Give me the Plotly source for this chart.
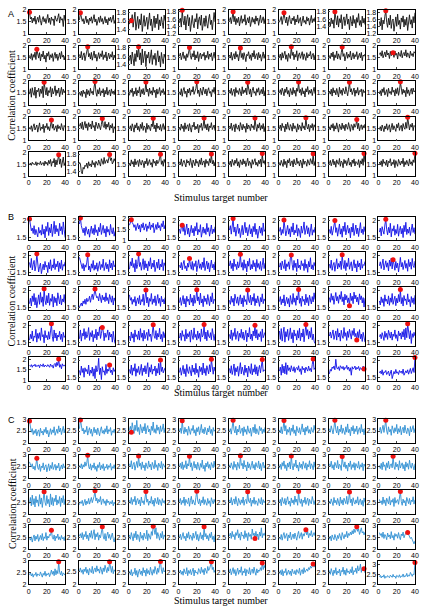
import plotly.graph_objects as go

STIMULUS = [1, 2, 3, 4, 5, 6, 7, 8, 9, 10, 11, 12, 13, 14, 15, 16, 17, 18, 19, 20,
            21, 22, 23, 24, 25, 26, 27, 28, 29, 30, 31, 32, 33, 34, 35, 36, 37, 38, 39, 40]
TARGETS = [1, 2, 3, 4, 5, 6, 7, 8, 9, 10, 11, 12, 13, 14, 15, 16, 17, 18, 19, 20,
           21, 22, 23, 24, 25, 26, 27, 28, 29, 30, 31, 32, 33, 34, 35, 36, 37, 38, 39, 40]
X_TICKS = [0, 20, 40]

A_SERIES = [
 [1.90,1.62,1.70,1.45,1.66,1.52,1.74,1.40,1.58,1.69,1.48,1.77,1.55,1.36,1.61,1.72,1.50,1.64,1.43,1.58,
  1.81,1.47,1.66,1.39,1.70,1.56,1.62,1.34,1.75,1.60,1.52,1.68,1.84,1.45,1.71,1.57,1.63,1.30,1.78,1.55],
 [1.58,1.88,1.70,1.52,1.63,1.41,1.57,1.74,1.46,1.60,1.38,1.66,1.53,1.71,1.44,1.59,1.80,1.49,1.62,1.35,
  1.56,1.69,1.47,1.75,1.51,1.64,1.40,1.58,1.72,1.45,1.61,1.37,1.67,1.54,1.70,1.48,1.62,1.78,1.43,1.57],
 [1.52,1.66,1.60,1.74,1.45,1.58,1.80,1.38,1.55,1.70,1.42,1.63,1.50,1.76,1.35,1.61,1.72,1.47,1.57,1.68,
  1.40,1.54,1.78,1.49,1.64,1.36,1.59,1.71,1.44,1.66,1.53,1.75,1.39,1.62,1.48,1.69,1.56,1.42,1.73,1.60],
 [1.50,1.62,1.38,1.84,1.56,1.44,1.68,1.30,1.59,1.72,1.41,1.64,1.26,1.55,1.70,1.47,1.36,1.61,1.52,1.75,
  1.33,1.58,1.66,1.43,1.71,1.29,1.54,1.63,1.40,1.69,1.48,1.35,1.60,1.73,1.45,1.57,1.31,1.66,1.78,1.52],
 [1.55,1.68,1.42,1.61,1.92,1.50,1.73,1.38,1.64,1.47,1.70,1.33,1.58,1.76,1.44,1.62,1.51,1.80,1.36,1.59,
  1.67,1.45,1.72,1.30,1.56,1.69,1.48,1.63,1.40,1.75,1.53,1.66,1.35,1.60,1.78,1.46,1.57,1.71,1.42,1.64],
 [1.48,1.60,1.72,1.39,1.57,1.88,1.63,1.45,1.70,1.34,1.59,1.76,1.50,1.41,1.66,1.55,1.73,1.37,1.62,1.49,
  1.79,1.44,1.58,1.68,1.32,1.61,1.74,1.47,1.56,1.40,1.71,1.53,1.65,1.36,1.60,1.77,1.46,1.63,1.51,1.69],
 [1.52,1.40,1.63,1.47,1.58,1.35,1.80,1.55,1.44,1.69,1.38,1.61,1.50,1.72,1.33,1.57,1.66,1.42,1.54,1.74,
  1.46,1.60,1.31,1.67,1.53,1.41,1.70,1.48,1.59,1.36,1.64,1.51,1.75,1.43,1.56,1.39,1.68,1.49,1.62,1.45],
 [1.55,1.42,1.66,1.31,1.59,1.48,1.70,1.86,1.52,1.38,1.64,1.45,1.73,1.35,1.57,1.62,1.27,1.50,1.68,1.41,
  1.76,1.46,1.58,1.33,1.65,1.53,1.71,1.39,1.61,1.44,1.67,1.29,1.56,1.74,1.47,1.60,1.36,1.69,1.51,1.80],
 [1.58,1.45,1.66,1.38,1.62,1.50,1.72,1.41,1.84,1.60,1.47,1.70,1.35,1.63,1.52,1.77,1.43,1.59,1.30,1.68,
  1.55,1.74,1.40,1.61,1.49,1.66,1.33,1.57,1.71,1.46,1.64,1.37,1.58,1.69,1.44,1.75,1.51,1.60,1.39,1.56],
 [1.62,1.48,1.75,1.40,1.58,1.69,1.36,1.55,1.72,1.95,1.52,1.66,1.43,1.71,1.38,1.60,1.77,1.47,1.63,1.34,
  1.58,1.70,1.45,1.65,1.53,1.78,1.41,1.61,1.49,1.73,1.35,1.57,1.68,1.44,1.62,1.51,1.74,1.39,1.60,1.47],
 [1.50,1.63,1.42,1.70,1.55,1.38,1.66,1.48,1.74,1.58,1.82,1.52,1.68,1.40,1.77,1.45,1.60,1.72,1.36,1.64,
  1.56,1.70,1.44,1.59,1.75,1.41,1.62,1.53,1.67,1.39,1.58,1.73,1.47,1.61,1.35,1.69,1.54,1.43,1.65,1.57],
 [1.55,1.68,1.40,1.60,1.73,1.45,1.58,1.36,1.65,1.50,1.70,1.92,1.57,1.42,1.66,1.52,1.78,1.39,1.61,1.47,
  1.74,1.33,1.59,1.68,1.44,1.63,1.55,1.71,1.38,1.60,1.49,1.76,1.42,1.64,1.53,1.69,1.36,1.58,1.72,1.46],
 [1.60,1.47,1.72,1.38,1.56,1.66,1.43,1.75,1.51,1.62,1.35,1.58,1.90,1.49,1.67,1.41,1.70,1.54,1.32,1.63,
  1.57,1.74,1.45,1.61,1.37,1.68,1.52,1.79,1.44,1.59,1.66,1.40,1.71,1.48,1.62,1.34,1.57,1.73,1.46,1.64],
 [1.52,1.64,1.38,1.70,1.47,1.59,1.76,1.42,1.61,1.33,1.67,1.55,1.45,1.95,1.58,1.72,1.40,1.63,1.51,1.78,
  1.36,1.60,1.69,1.46,1.57,1.74,1.41,1.65,1.53,1.37,1.70,1.48,1.62,1.56,1.75,1.43,1.59,1.67,1.39,1.61],
 [1.58,1.45,1.68,1.52,1.73,1.37,1.61,1.49,1.77,1.43,1.65,1.56,1.40,1.70,1.94,1.54,1.66,1.35,1.60,1.72,
  1.46,1.63,1.51,1.76,1.39,1.58,1.69,1.44,1.62,1.53,1.74,1.41,1.57,1.67,1.48,1.71,1.36,1.60,1.55,1.64],
 [1.62,1.70,1.55,1.78,1.48,1.66,1.73,1.52,1.80,1.60,1.68,1.45,1.75,1.57,1.64,1.70,1.50,1.77,1.59,1.67,
  1.43,1.72,1.61,1.54,1.79,1.48,1.65,1.71,1.56,1.82,1.51,1.69,1.63,1.47,1.76,1.58,1.66,1.53,1.74,1.68],
 [1.45,1.68,1.32,1.72,1.50,1.40,1.75,1.28,1.62,1.55,1.70,1.35,1.66,1.48,1.78,1.30,1.95,1.64,1.42,1.73,
  1.37,1.60,1.52,1.76,1.33,1.69,1.46,1.57,1.80,1.39,1.63,1.49,1.71,1.34,1.59,1.74,1.43,1.66,1.51,1.60],
 [1.52,1.40,1.58,1.35,1.62,1.47,1.55,1.30,1.66,1.44,1.60,1.38,1.70,1.49,1.57,1.42,1.75,1.98,1.53,1.36,
  1.64,1.46,1.72,1.39,1.59,1.50,1.68,1.33,1.61,1.45,1.74,1.41,1.56,1.63,1.37,1.67,1.48,1.58,1.43,1.65],
 [1.40,1.63,1.52,1.70,1.35,1.58,1.45,1.72,1.38,1.61,1.50,1.76,1.33,1.64,1.47,1.69,1.42,1.57,1.96,1.54,
  1.66,1.36,1.71,1.48,1.59,1.41,1.74,1.52,1.62,1.30,1.67,1.45,1.56,1.73,1.39,1.60,1.51,1.68,1.43,1.58],
 [1.55,1.42,1.68,1.36,1.60,1.73,1.47,1.58,1.32,1.66,1.50,1.71,1.40,1.63,1.54,1.77,1.44,1.59,1.69,1.97,
  1.48,1.62,1.35,1.70,1.52,1.41,1.75,1.57,1.46,1.67,1.38,1.61,1.72,1.49,1.56,1.34,1.64,1.53,1.74,1.45],
 [1.62,1.48,1.70,1.40,1.57,1.66,1.35,1.73,1.51,1.60,1.44,1.69,1.55,1.38,1.76,1.47,1.63,1.52,1.71,1.42,
  1.95,1.58,1.45,1.67,1.33,1.61,1.74,1.49,1.56,1.39,1.68,1.53,1.72,1.41,1.59,1.65,1.46,1.75,1.37,1.60],
 [1.50,1.64,1.43,1.71,1.56,1.38,1.67,1.52,1.75,1.45,1.60,1.34,1.69,1.55,1.42,1.73,1.48,1.62,1.36,1.70,
  1.57,1.96,1.51,1.65,1.40,1.72,1.46,1.59,1.33,1.68,1.54,1.77,1.44,1.61,1.49,1.66,1.39,1.58,1.74,1.47],
 [1.58,1.45,1.66,1.37,1.72,1.50,1.61,1.42,1.69,1.55,1.33,1.74,1.48,1.63,1.40,1.70,1.57,1.46,1.76,1.52,
  1.38,1.65,1.95,1.54,1.68,1.43,1.59,1.71,1.36,1.62,1.49,1.73,1.41,1.60,1.56,1.67,1.35,1.64,1.51,1.58],
 [1.46,1.60,1.38,1.67,1.52,1.73,1.41,1.58,1.64,1.35,1.70,1.49,1.56,1.43,1.75,1.53,1.62,1.37,1.68,1.47,
  1.72,1.40,1.59,1.97,1.55,1.44,1.66,1.50,1.61,1.34,1.74,1.48,1.63,1.39,1.57,1.69,1.45,1.71,1.54,1.60],
 [1.55,1.47,1.62,1.38,1.58,1.70,1.44,1.52,1.65,1.35,1.60,1.74,1.42,1.56,1.49,1.68,1.33,1.61,1.53,1.72,
  1.46,1.58,1.40,1.64,1.86,1.51,1.69,1.43,1.57,1.62,1.37,1.66,1.50,1.59,1.45,1.71,1.54,1.41,1.63,1.57],
 [1.60,1.72,1.50,1.78,1.45,1.65,1.80,1.52,1.70,1.42,1.75,1.58,1.68,1.48,1.82,1.55,1.63,1.40,1.77,1.62,
  1.50,1.73,1.57,1.45,1.67,1.92,1.60,1.54,1.79,1.47,1.69,1.56,1.76,1.43,1.64,1.52,1.71,1.32,1.58,1.49],
 [1.48,1.62,1.40,1.70,1.55,1.35,1.66,1.52,1.74,1.44,1.59,1.38,1.68,1.50,1.76,1.42,1.61,1.56,1.33,1.72,
  1.47,1.64,1.53,1.41,1.69,1.58,1.93,1.49,1.65,1.36,1.73,1.51,1.60,1.45,1.67,1.39,1.57,1.71,1.46,1.63],
 [1.56,1.43,1.69,1.50,1.62,1.37,1.74,1.47,1.58,1.66,1.40,1.71,1.53,1.35,1.64,1.57,1.77,1.45,1.60,1.49,
  1.68,1.32,1.63,1.55,1.72,1.42,1.59,1.95,1.51,1.67,1.44,1.70,1.38,1.61,1.54,1.75,1.46,1.58,1.65,1.41],
 [1.61,1.50,1.73,1.42,1.58,1.66,1.36,1.70,1.53,1.47,1.64,1.39,1.75,1.56,1.44,1.68,1.51,1.60,1.34,1.72,
  1.48,1.65,1.57,1.41,1.69,1.54,1.62,1.45,1.94,1.59,1.38,1.67,1.52,1.74,1.43,1.63,1.49,1.71,1.37,1.60],
 [1.50,1.65,1.41,1.72,1.54,1.60,1.36,1.69,1.47,1.76,1.55,1.43,1.67,1.58,1.39,1.73,1.49,1.62,1.52,1.35,
  1.70,1.46,1.64,1.57,1.40,1.75,1.51,1.61,1.44,1.96,1.59,1.48,1.68,1.37,1.63,1.53,1.71,1.42,1.66,1.56],
 [1.58,1.44,1.66,1.52,1.71,1.39,1.62,1.48,1.74,1.56,1.35,1.68,1.60,1.45,1.73,1.50,1.64,1.41,1.69,1.57,
  1.47,1.75,1.53,1.38,1.67,1.61,1.43,1.70,1.55,1.64,1.88,1.49,1.72,1.40,1.59,1.66,1.46,1.63,1.52,1.69],
 [1.46,1.58,1.40,1.65,1.52,1.37,1.61,1.48,1.70,1.43,1.55,1.66,1.35,1.59,1.72,1.45,1.62,1.50,1.38,1.68,
  1.53,1.74,1.42,1.57,1.64,1.39,1.71,1.55,1.47,1.76,1.51,1.98,1.60,1.44,1.67,1.56,1.73,1.41,1.63,1.58],
 [1.48,1.55,1.45,1.58,1.50,1.52,1.47,1.60,1.44,1.56,1.51,1.49,1.62,1.46,1.54,1.57,1.43,1.63,1.50,1.58,
  1.45,1.66,1.52,1.70,1.41,1.61,1.55,1.74,1.38,1.68,1.47,1.78,1.90,1.50,1.72,1.36,1.65,1.80,1.44,1.57],
 [1.62,1.58,1.40,1.35,1.50,1.46,1.55,1.52,1.60,1.48,1.63,1.54,1.58,1.51,1.66,1.56,1.61,1.50,1.64,1.58,
  1.55,1.67,1.60,1.53,1.70,1.62,1.57,1.73,1.59,1.65,1.68,1.60,1.76,1.80,1.66,1.72,1.58,1.62,1.70,1.64],
 [1.55,1.42,1.68,1.50,1.61,1.38,1.72,1.47,1.59,1.65,1.40,1.70,1.53,1.46,1.66,1.57,1.35,1.63,1.51,1.74,
  1.44,1.60,1.69,1.48,1.56,1.37,1.71,1.54,1.62,1.43,1.67,1.52,1.58,1.75,1.92,1.49,1.64,1.41,1.70,1.56],
 [1.60,1.48,1.72,1.41,1.57,1.66,1.52,1.38,1.69,1.55,1.63,1.45,1.74,1.50,1.35,1.67,1.58,1.43,1.71,1.54,
  1.61,1.39,1.68,1.49,1.76,1.46,1.59,1.64,1.37,1.70,1.53,1.62,1.44,1.73,1.56,1.93,1.51,1.66,1.42,1.60],
 [1.50,1.63,1.39,1.70,1.56,1.45,1.67,1.53,1.74,1.42,1.60,1.36,1.68,1.58,1.47,1.72,1.51,1.64,1.40,1.57,
  1.75,1.44,1.62,1.55,1.33,1.69,1.49,1.61,1.73,1.46,1.58,1.41,1.66,1.52,1.71,1.38,1.95,1.54,1.65,1.48],
 [1.57,1.45,1.66,1.52,1.40,1.71,1.48,1.62,1.35,1.68,1.55,1.74,1.43,1.59,1.64,1.38,1.70,1.51,1.47,1.76,
  1.53,1.61,1.42,1.67,1.56,1.34,1.72,1.49,1.63,1.58,1.41,1.69,1.54,1.46,1.73,1.60,1.50,1.94,1.44,1.62],
 [1.52,1.66,1.43,1.59,1.71,1.47,1.62,1.37,1.68,1.55,1.49,1.74,1.41,1.63,1.57,1.35,1.70,1.52,1.65,1.44,
  1.60,1.76,1.46,1.58,1.39,1.67,1.53,1.72,1.42,1.61,1.56,1.48,1.69,1.36,1.64,1.51,1.73,1.45,1.95,1.58],
 [1.59,1.47,1.64,1.40,1.71,1.53,1.60,1.45,1.67,1.38,1.62,1.56,1.73,1.43,1.58,1.49,1.69,1.35,1.65,1.54,
  1.41,1.70,1.57,1.46,1.63,1.52,1.75,1.39,1.61,1.48,1.66,1.55,1.42,1.72,1.50,1.60,1.44,1.68,1.57,1.96],
]

B_SERIES = [
 [2.05,1.92,1.70,1.78,1.62,1.85,1.58,1.74,1.66,1.52,1.80,1.63,1.71,1.57,1.88,1.60,1.75,1.49,1.83,1.68,
  1.95,1.56,1.79,1.64,1.90,1.53,1.72,1.98,1.61,1.86,1.67,1.76,1.55,1.92,1.70,1.82,1.59,1.96,1.73,1.50],
 [1.90,2.08,1.85,1.72,1.64,1.78,1.56,1.82,1.68,1.60,1.75,1.51,1.69,1.84,1.62,1.77,1.58,1.88,1.65,1.73,
  1.55,1.80,1.67,1.92,1.59,1.71,1.86,1.63,1.76,1.52,1.83,1.66,1.74,1.57,1.89,1.70,1.61,1.79,1.54,1.68],
 [1.70,1.88,1.95,1.82,1.75,1.60,1.72,1.45,1.66,1.78,1.52,1.69,1.38,1.74,1.58,1.81,1.47,1.63,1.76,1.41,
  1.67,1.55,1.85,1.49,1.71,1.60,1.79,1.35,1.64,1.73,1.50,1.83,1.57,1.68,1.44,1.77,1.62,1.90,1.53,1.70],
 [1.75,1.62,1.80,1.86,1.68,1.85,1.57,1.73,1.90,1.60,1.78,1.52,1.70,1.86,1.64,1.77,1.55,1.83,1.69,1.94,
  1.58,1.74,1.66,1.88,1.51,1.72,1.81,1.63,1.76,1.59,1.92,1.67,1.79,1.54,1.71,1.87,1.61,1.75,1.65,1.82],
 [1.72,1.85,1.60,1.78,2.06,1.66,1.81,1.54,1.74,1.90,1.62,1.77,1.50,1.69,1.86,1.58,1.73,1.95,1.64,1.80,
  1.55,1.71,1.88,1.61,1.76,1.52,1.83,1.67,1.92,1.59,1.75,1.48,1.70,1.84,1.63,1.79,1.56,1.93,1.68,1.74],
 [1.68,1.80,1.57,1.74,1.62,2.02,1.78,1.55,1.70,1.86,1.60,1.76,1.52,1.82,1.66,1.93,1.58,1.72,1.64,1.88,
  1.54,1.77,1.69,1.50,1.84,1.63,1.75,1.96,1.59,1.71,1.85,1.61,1.79,1.53,1.67,1.90,1.57,1.73,1.65,1.81],
 [1.74,1.62,1.83,1.57,1.70,1.88,2.00,1.65,1.79,1.54,1.72,1.90,1.60,1.76,1.51,1.84,1.68,1.95,1.58,1.73,
  1.86,1.63,1.77,1.49,1.81,1.66,1.92,1.56,1.71,1.87,1.61,1.78,1.53,1.69,1.94,1.64,1.75,1.59,1.82,1.67],
 [1.66,1.78,1.55,1.82,1.70,1.60,1.87,2.04,1.73,1.58,1.80,1.64,1.92,1.52,1.76,1.69,1.85,1.57,1.74,1.62,
  1.89,1.54,1.71,1.83,1.61,1.77,1.50,1.86,1.67,1.95,1.59,1.75,1.63,1.81,1.56,1.72,1.90,1.65,1.79,1.60],
 [1.80,1.65,1.92,1.58,1.74,1.86,1.55,1.70,2.05,1.85,1.52,1.68,1.78,1.47,1.63,1.75,1.58,1.83,1.66,1.72,
  1.50,1.80,1.61,1.88,1.56,1.73,1.64,1.91,1.59,1.76,1.67,1.84,1.53,1.79,1.62,1.87,1.57,1.74,1.69,1.82],
 [1.95,1.84,1.70,1.62,1.77,1.55,1.73,1.66,1.81,2.03,1.58,1.69,1.52,1.76,1.63,1.86,1.57,1.72,1.60,1.79,
  1.54,1.68,1.83,1.59,1.74,1.65,1.90,1.56,1.71,1.80,1.61,1.75,1.53,1.88,1.64,1.78,1.58,1.85,1.67,1.73],
 [1.60,1.82,1.70,1.93,1.65,1.77,1.52,1.88,1.62,1.74,2.05,1.68,1.80,1.57,1.73,1.91,1.59,1.85,1.64,1.76,
  1.55,1.83,1.69,1.94,1.61,1.78,1.66,1.87,1.53,1.72,1.81,1.63,1.90,1.58,1.75,1.67,1.89,1.56,1.79,1.70],
 [1.72,1.64,1.80,1.58,1.75,1.86,1.62,1.70,1.55,1.78,1.66,1.92,1.73,1.60,1.83,1.57,1.77,1.68,1.85,1.53,
  1.71,1.88,1.63,1.76,1.59,1.81,1.65,1.94,1.56,1.74,1.84,1.61,1.79,1.52,1.69,1.87,1.64,1.75,1.58,1.82],
 [1.70,1.85,1.62,1.78,1.55,1.90,1.68,1.75,1.59,1.82,1.64,1.73,2.04,1.66,1.80,1.57,1.88,1.63,1.76,1.52,
  1.84,1.69,1.92,1.58,1.74,1.61,1.86,1.67,1.79,1.54,1.89,1.65,1.77,1.60,1.83,1.56,1.71,1.93,1.62,1.78],
 [1.66,1.79,1.58,1.84,1.71,1.62,1.88,1.55,1.76,1.68,1.82,1.60,1.93,2.02,1.74,1.57,1.86,1.65,1.78,1.53,
  1.90,1.64,1.72,1.59,1.85,1.70,1.77,1.56,1.89,1.63,1.75,1.51,1.83,1.67,1.94,1.61,1.73,1.58,1.80,1.69],
 [1.75,1.63,1.87,1.57,1.72,1.80,1.54,1.69,1.91,1.61,1.77,1.66,1.84,1.59,2.03,1.74,1.62,1.86,1.56,1.79,
  1.68,1.93,1.60,1.73,1.82,1.55,1.70,1.88,1.64,1.76,1.52,1.85,1.67,1.78,1.58,1.90,1.63,1.74,1.71,1.83],
 [1.70,1.82,1.62,1.76,1.90,1.58,1.73,1.85,1.66,1.79,1.55,1.87,1.69,1.93,1.61,1.88,1.75,1.57,1.83,1.64,
  1.78,1.52,1.72,1.95,1.67,1.80,1.59,1.74,1.86,1.63,1.77,1.54,1.89,1.68,1.81,1.60,1.92,1.71,1.65,1.84],
 [1.62,1.78,1.55,1.85,1.68,1.92,1.58,1.80,1.50,1.74,1.88,1.60,1.95,1.66,1.82,1.54,2.06,1.72,1.59,1.86,
  1.64,1.93,1.57,1.77,1.69,1.90,1.52,1.83,1.65,1.79,1.56,1.94,1.70,1.61,1.87,1.58,1.76,1.67,1.89,1.63],
 [1.52,1.58,1.64,1.55,1.70,1.62,1.75,1.60,1.78,1.68,1.72,1.84,1.66,1.80,1.90,1.74,1.86,2.05,1.88,1.79,
  1.83,1.70,1.92,1.76,1.65,1.87,1.73,1.82,1.68,1.94,1.71,1.80,1.62,1.89,1.75,1.66,1.85,1.58,1.79,1.70],
 [1.88,1.72,1.80,1.60,1.75,1.66,1.83,1.55,1.70,1.79,1.62,1.86,1.58,1.74,1.68,1.90,1.57,1.73,2.02,1.64,
  1.81,1.53,1.77,1.69,1.92,1.60,1.76,1.65,1.85,1.56,1.72,1.89,1.63,1.78,1.54,1.84,1.67,1.75,1.61,1.80],
 [1.65,1.80,1.57,1.73,1.86,1.61,1.77,1.52,1.84,1.69,1.75,1.58,1.90,1.66,1.79,1.55,1.87,1.63,1.74,2.03,
  1.70,1.82,1.59,1.93,1.64,1.76,1.53,1.85,1.68,1.78,1.60,1.89,1.72,1.56,1.83,1.67,1.94,1.62,1.75,1.71],
 [1.72,1.60,1.84,1.66,1.78,1.55,1.90,1.70,1.63,1.82,1.57,1.75,1.88,1.61,1.79,1.53,1.86,1.68,1.74,1.59,
  2.02,1.73,1.65,1.87,1.58,1.81,1.69,1.92,1.56,1.77,1.64,1.85,1.71,1.54,1.80,1.67,1.91,1.62,1.76,1.70],
 [1.68,1.83,1.59,1.76,1.64,1.88,1.55,1.72,1.81,1.62,1.77,1.52,1.86,1.70,1.60,1.92,1.66,1.79,1.57,1.85,
  1.73,2.04,1.63,1.78,1.54,1.84,1.69,1.75,1.58,1.90,1.65,1.80,1.56,1.87,1.71,1.61,1.83,1.67,1.94,1.74],
 [1.80,1.66,1.92,1.72,1.85,1.60,1.78,1.95,1.70,1.83,1.63,1.88,1.75,1.98,1.68,1.82,1.58,1.90,1.73,1.86,
  1.65,1.79,1.56,1.93,1.71,1.84,1.62,1.96,1.76,1.87,1.67,1.81,1.59,1.91,1.74,1.85,1.64,1.80,1.52,1.78],
 [1.70,1.58,1.82,1.65,1.77,1.54,1.88,1.69,1.75,1.61,1.85,1.57,1.79,1.66,1.92,1.60,1.73,1.84,1.56,1.78,
  1.64,1.89,1.68,2.04,1.62,1.80,1.55,1.86,1.71,1.76,1.59,1.91,1.67,1.74,1.53,1.83,1.65,1.79,1.60,1.87],
 [1.58,1.75,1.62,1.85,1.55,1.70,1.66,1.90,1.52,1.78,1.63,1.80,1.57,1.94,1.68,1.74,1.50,1.86,1.65,1.72,
  1.59,1.83,1.61,1.77,2.06,1.69,1.54,1.88,1.64,1.79,1.56,1.73,1.67,1.84,1.60,1.76,1.53,1.81,1.66,1.71],
 [1.62,1.88,1.55,1.78,1.70,1.92,1.60,1.83,1.65,1.74,1.95,1.57,1.80,1.68,1.86,1.53,1.75,1.64,1.90,1.59,
  1.82,1.71,1.97,1.63,1.77,1.95,1.85,1.56,1.79,1.66,1.73,1.88,1.58,1.81,1.67,1.76,1.52,1.84,1.61,1.48],
 [1.70,1.56,1.82,1.64,1.77,1.52,1.88,1.68,1.74,1.60,1.85,1.58,1.92,1.66,1.79,1.55,1.87,1.62,1.73,1.81,
  1.57,1.90,1.69,1.76,1.54,1.84,2.03,1.71,1.63,1.86,1.59,1.78,1.67,1.93,1.61,1.75,1.53,1.83,1.65,1.80],
 [1.64,1.79,1.57,1.86,1.69,1.74,1.55,1.90,1.62,1.77,1.68,1.83,1.52,1.88,1.71,1.60,1.94,1.66,1.75,1.58,
  1.85,1.63,1.78,1.54,1.91,1.67,1.73,2.04,1.61,1.82,1.56,1.87,1.70,1.65,1.80,1.59,1.92,1.72,1.57,1.76],
 [1.75,1.62,1.88,1.57,1.80,1.69,1.93,1.60,1.74,1.84,1.55,1.78,1.66,1.90,1.63,1.82,1.58,1.71,1.87,1.53,
  1.79,1.67,1.95,1.61,1.76,1.56,1.85,1.70,2.02,1.64,1.89,1.59,1.77,1.68,1.83,1.54,1.91,1.65,1.73,1.81],
 [1.85,1.60,1.92,1.55,1.78,1.96,1.52,1.83,1.68,1.90,1.57,1.75,1.94,1.62,1.80,1.50,1.88,1.70,1.77,1.58,
  1.86,1.64,1.93,1.56,1.79,1.67,1.91,1.53,1.82,2.04,1.72,1.89,1.61,1.84,1.66,1.95,1.59,1.76,1.55,1.48],
 [1.70,1.82,1.64,1.76,1.88,1.60,1.73,1.85,1.58,1.92,1.67,1.79,1.55,1.87,1.71,1.63,1.95,1.69,1.80,1.57,
  1.84,1.66,1.90,1.75,1.61,1.86,1.72,1.93,1.68,1.78,1.58,1.83,1.65,1.89,1.62,1.76,1.54,1.81,1.67,1.52],
 [1.68,1.75,1.62,1.80,1.70,1.57,1.84,1.66,1.78,1.60,1.87,1.72,1.64,1.82,1.58,1.76,1.69,1.88,1.63,1.74,
  1.55,1.85,1.71,1.79,1.61,1.83,1.67,1.90,1.59,1.94,1.65,2.06,1.73,1.62,1.86,1.48,1.77,1.66,1.81,1.70],
 [1.70,1.66,1.74,1.62,1.72,1.68,1.76,1.64,1.71,1.67,1.73,1.60,1.75,1.69,1.66,1.78,1.63,1.72,1.70,1.65,
  1.74,1.68,1.62,1.77,1.66,1.71,1.58,1.75,1.80,1.64,1.85,1.70,2.00,1.62,1.74,1.55,1.78,1.68,1.72,1.66],
 [1.72,1.58,1.85,1.66,1.78,1.52,1.80,1.69,1.75,1.62,1.88,1.57,1.73,1.64,1.82,1.55,1.77,1.48,1.86,1.68,
  1.74,2.08,1.60,1.79,1.45,1.83,1.67,1.71,1.58,1.90,1.63,1.76,1.70,1.88,1.66,1.73,1.59,1.80,1.69,1.75],
 [1.75,1.63,1.88,1.58,1.80,1.70,1.92,1.55,1.77,1.66,1.84,1.60,1.73,1.90,1.57,1.79,1.68,1.86,1.62,1.74,
  1.95,1.53,1.81,1.67,1.89,1.61,1.76,1.71,1.85,1.56,1.78,1.64,1.93,1.59,2.03,1.69,1.82,1.65,1.74,1.80],
 [1.66,1.80,1.58,1.74,1.87,1.62,1.77,1.54,1.90,1.70,1.63,1.83,1.72,1.56,1.88,1.67,1.79,1.60,1.93,1.65,
  1.75,1.52,1.85,1.69,1.81,1.59,1.94,1.64,1.78,1.57,1.86,1.71,1.62,1.89,1.68,2.05,1.73,1.61,1.82,1.70],
 [1.78,1.64,1.86,1.60,1.73,1.91,1.57,1.80,1.68,1.84,1.55,1.76,1.95,1.62,1.82,1.70,1.58,1.88,1.66,1.79,
  1.53,1.85,1.72,1.63,1.92,1.59,1.77,1.67,1.89,1.61,1.83,1.56,1.75,1.87,1.65,1.80,2.04,1.69,1.74,1.71],
 [1.70,1.82,1.58,1.90,1.65,1.85,1.62,1.95,1.60,1.88,1.72,1.80,1.68,1.86,1.75,1.70,1.83,1.66,1.78,1.81,
  1.73,1.86,1.69,1.77,1.60,1.84,1.74,1.79,1.65,1.82,1.76,1.70,1.85,1.72,1.78,1.68,1.90,2.06,1.75,1.80],
 [1.62,1.75,1.70,1.82,1.78,1.85,1.74,2.05,1.80,1.76,1.83,1.72,1.86,1.79,1.77,1.84,1.73,1.81,1.78,1.87,
  1.75,1.82,1.70,1.80,1.58,1.83,1.76,1.79,1.85,1.74,1.81,1.77,1.84,1.72,1.80,1.78,1.73,1.85,1.76,1.77],
 [1.65,1.70,1.62,1.74,1.58,1.68,1.66,1.72,1.60,1.64,1.70,1.56,1.67,1.73,1.48,1.66,1.69,1.62,1.75,1.64,
  1.68,1.60,1.72,1.66,1.70,1.63,1.76,1.58,1.67,1.71,1.65,1.74,1.61,1.69,1.78,1.63,1.72,1.80,1.66,2.10],
]

C_SERIES = [
 [2.92,2.70,2.45,2.60,2.35,2.52,2.40,2.58,2.30,2.48,2.55,2.28,2.62,2.42,2.50,2.33,2.57,2.44,2.66,2.38,
  2.53,2.25,2.47,2.60,2.36,2.55,2.43,2.68,2.32,2.50,2.58,2.40,2.72,2.46,2.62,2.35,2.56,2.70,2.42,2.60],
 [2.60,2.97,2.75,2.50,2.62,2.38,2.55,2.45,2.70,2.33,2.52,2.64,2.40,2.58,2.28,2.50,2.66,2.42,2.57,2.35,
  2.63,2.47,2.30,2.55,2.68,2.41,2.53,2.37,2.60,2.45,2.72,2.38,2.56,2.49,2.65,2.32,2.51,2.44,2.58,2.40],
 [2.55,2.70,2.45,2.85,2.60,2.40,2.75,2.52,2.95,2.48,2.65,2.35,2.78,2.55,2.42,2.68,2.50,2.82,2.38,2.62,
  2.73,2.46,2.58,2.33,2.70,2.52,2.88,2.44,2.60,2.40,2.76,2.53,2.66,2.37,2.72,2.48,2.57,2.80,2.43,2.63],
 [2.50,2.62,2.40,2.93,2.55,2.38,2.66,2.45,2.58,2.32,2.70,2.48,2.36,2.60,2.52,2.74,2.41,2.56,2.30,2.64,
  2.47,2.68,2.35,2.53,2.78,2.43,2.59,2.38,2.66,2.50,2.34,2.62,2.46,2.72,2.40,2.57,2.31,2.65,2.49,2.55],
 [2.48,2.60,2.37,2.65,2.95,2.55,2.42,2.70,2.33,2.58,2.46,2.75,2.40,2.52,2.63,2.30,2.68,2.45,2.57,2.36,
  2.72,2.50,2.41,2.62,2.28,2.55,2.67,2.43,2.78,2.38,2.60,2.47,2.35,2.70,2.52,2.64,2.39,2.58,2.44,2.66],
 [2.55,2.42,2.68,2.38,2.60,2.94,2.50,2.73,2.35,2.57,2.45,2.66,2.32,2.62,2.48,2.76,2.40,2.55,2.30,2.70,
  2.52,2.43,2.64,2.36,2.58,2.80,2.46,2.61,2.33,2.67,2.49,2.72,2.41,2.56,2.38,2.65,2.51,2.44,2.74,2.53],
 [2.60,2.45,2.72,2.50,2.38,2.65,2.96,2.55,2.42,2.70,2.33,2.58,2.47,2.76,2.40,2.62,2.52,2.35,2.68,2.45,
  2.80,2.43,2.57,2.30,2.66,2.50,2.73,2.38,2.60,2.48,2.71,2.36,2.55,2.64,2.41,2.78,2.46,2.59,2.34,2.62],
 [2.52,2.66,2.40,2.58,2.74,2.44,2.62,2.95,2.50,2.36,2.68,2.47,2.57,2.32,2.72,2.53,2.41,2.64,2.48,2.78,
  2.38,2.60,2.45,2.70,2.34,2.56,2.66,2.42,2.75,2.51,2.39,2.63,2.55,2.30,2.69,2.46,2.59,2.73,2.43,2.61],
 [2.70,2.55,2.48,2.62,2.40,2.52,2.35,2.58,2.85,2.45,2.38,2.60,2.30,2.52,2.45,2.66,2.36,2.50,2.58,2.28,
  2.48,2.62,2.33,2.55,2.42,2.68,2.38,2.50,2.60,2.35,2.54,2.44,2.65,2.32,2.48,2.57,2.40,2.62,2.45,2.52],
 [2.55,2.45,2.62,2.40,2.58,2.48,2.70,2.52,2.66,2.98,2.50,2.40,2.62,2.35,2.56,2.45,2.66,2.38,2.52,2.30,
  2.58,2.46,2.68,2.36,2.55,2.42,2.62,2.33,2.50,2.44,2.60,2.38,2.54,2.47,2.64,2.35,2.50,2.43,2.58,2.40],
 [2.62,2.48,2.75,2.40,2.58,2.68,2.35,2.55,2.72,2.46,2.95,2.52,2.64,2.38,2.70,2.45,2.57,2.33,2.66,2.50,
  2.42,2.74,2.48,2.60,2.36,2.68,2.53,2.41,2.77,2.47,2.58,2.34,2.65,2.51,2.44,2.72,2.39,2.62,2.55,2.46],
 [2.50,2.64,2.42,2.70,2.37,2.58,2.46,2.75,2.40,2.62,2.53,2.94,2.48,2.66,2.33,2.57,2.72,2.44,2.60,2.38,
  2.68,2.51,2.35,2.63,2.47,2.78,2.41,2.56,2.30,2.65,2.49,2.71,2.43,2.59,2.36,2.67,2.52,2.45,2.73,2.48],
 [2.58,2.44,2.66,2.52,2.38,2.72,2.47,2.60,2.35,2.68,2.50,2.42,2.96,2.55,2.64,2.40,2.76,2.48,2.57,2.32,
  2.70,2.45,2.62,2.38,2.54,2.73,2.43,2.59,2.36,2.67,2.51,2.46,2.74,2.40,2.63,2.33,2.58,2.69,2.44,2.56],
 [2.45,2.60,2.38,2.67,2.52,2.74,2.42,2.58,2.33,2.65,2.48,2.70,2.40,2.95,2.55,2.36,2.63,2.50,2.78,2.44,
  2.57,2.31,2.68,2.46,2.61,2.39,2.72,2.53,2.43,2.66,2.35,2.59,2.49,2.75,2.41,2.62,2.55,2.37,2.70,2.47],
 [2.62,2.50,2.73,2.43,2.58,2.36,2.68,2.52,2.45,2.76,2.40,2.60,2.55,2.34,2.93,2.62,2.48,2.70,2.42,2.57,
  2.31,2.65,2.50,2.74,2.38,2.59,2.46,2.67,2.35,2.63,2.53,2.44,2.72,2.39,2.58,2.48,2.66,2.33,2.61,2.51],
 [2.55,2.42,2.64,2.37,2.70,2.50,2.58,2.34,2.66,2.46,2.73,2.40,2.57,2.62,2.45,2.94,2.52,2.38,2.68,2.49,
  2.60,2.35,2.75,2.44,2.56,2.66,2.41,2.59,2.32,2.70,2.48,2.63,2.39,2.77,2.53,2.43,2.65,2.50,2.36,2.62],
 [2.45,2.70,2.35,2.80,2.40,2.65,2.30,2.75,2.48,2.60,2.33,2.82,2.42,2.68,2.28,2.72,2.94,2.50,2.36,2.78,
  2.44,2.62,2.30,2.85,2.40,2.70,2.35,2.66,2.52,2.80,2.38,2.60,2.45,2.74,2.32,2.68,2.48,2.78,2.40,2.64],
 [2.40,2.52,2.45,2.58,2.35,2.50,2.62,2.38,2.55,2.44,2.66,2.42,2.57,2.70,2.48,2.60,2.75,2.98,2.55,2.68,
  2.46,2.62,2.52,2.74,2.40,2.58,2.64,2.45,2.56,2.36,2.62,2.48,2.55,2.40,2.52,2.44,2.58,2.35,2.50,2.42],
 [2.58,2.45,2.70,2.40,2.62,2.52,2.75,2.38,2.57,2.66,2.43,2.60,2.34,2.72,2.48,2.56,2.40,2.68,2.95,2.50,
  2.63,2.37,2.55,2.46,2.74,2.42,2.59,2.33,2.67,2.51,2.44,2.70,2.39,2.61,2.53,2.36,2.65,2.48,2.57,2.43],
 [2.52,2.66,2.40,2.58,2.46,2.72,2.36,2.62,2.50,2.44,2.68,2.33,2.57,2.75,2.42,2.60,2.48,2.38,2.70,2.96,
  2.55,2.43,2.64,2.35,2.58,2.47,2.73,2.40,2.61,2.52,2.37,2.66,2.45,2.56,2.32,2.69,2.50,2.43,2.62,2.48],
 [2.60,2.47,2.70,2.38,2.56,2.64,2.42,2.74,2.50,2.35,2.66,2.53,2.40,2.60,2.46,2.72,2.37,2.58,2.62,2.44,
  2.94,2.55,2.48,2.67,2.33,2.59,2.45,2.71,2.41,2.57,2.50,2.36,2.65,2.52,2.43,2.70,2.39,2.61,2.48,2.55],
 [2.48,2.62,2.35,2.70,2.52,2.44,2.66,2.38,2.58,2.73,2.42,2.55,2.33,2.68,2.47,2.60,2.40,2.76,2.50,2.63,
  2.37,2.95,2.56,2.45,2.64,2.32,2.59,2.48,2.71,2.41,2.55,2.67,2.36,2.62,2.49,2.43,2.74,2.53,2.40,2.58],
 [2.55,2.43,2.64,2.50,2.36,2.70,2.47,2.58,2.40,2.66,2.53,2.34,2.72,2.45,2.60,2.38,2.67,2.52,2.44,2.75,
  2.41,2.57,2.93,2.48,2.63,2.35,2.69,2.51,2.42,2.60,2.46,2.73,2.38,2.56,2.64,2.40,2.58,2.33,2.68,2.49],
 [2.62,2.48,2.56,2.40,2.72,2.45,2.60,2.35,2.67,2.52,2.43,2.74,2.38,2.58,2.50,2.65,2.32,2.70,2.46,2.55,
  2.61,2.41,2.68,2.95,2.53,2.37,2.63,2.47,2.57,2.34,2.70,2.50,2.44,2.66,2.39,2.59,2.52,2.73,2.42,2.60],
 [2.45,2.38,2.52,2.30,2.48,2.60,2.35,2.55,2.42,2.62,2.33,2.50,2.58,2.40,2.66,2.36,2.52,2.45,2.70,2.38,
  2.55,2.47,2.62,2.58,2.80,2.50,2.42,2.60,2.35,2.55,2.46,2.64,2.40,2.52,2.38,2.58,2.44,2.50,2.36,2.55],
 [2.55,2.65,2.48,2.70,2.40,2.62,2.52,2.75,2.44,2.60,2.36,2.68,2.50,2.78,2.45,2.58,2.82,2.40,2.65,2.52,
  2.70,2.38,2.60,2.48,2.74,2.94,2.55,2.42,2.66,2.35,2.58,2.72,2.46,2.62,2.40,2.55,2.68,2.44,2.30,2.50],
 [2.60,2.42,2.70,2.50,2.35,2.66,2.48,2.76,2.40,2.62,2.55,2.32,2.72,2.46,2.58,2.38,2.68,2.52,2.44,2.80,
  2.36,2.65,2.50,2.42,2.74,2.58,2.97,2.85,2.62,2.90,2.45,2.70,2.55,2.38,2.66,2.48,2.75,2.42,2.60,2.52],
 [2.50,2.63,2.40,2.58,2.70,2.45,2.55,2.35,2.66,2.48,2.73,2.42,2.60,2.52,2.37,2.68,2.46,2.57,2.75,2.40,
  2.62,2.34,2.56,2.70,2.44,2.60,2.38,2.95,2.52,2.66,2.43,2.58,2.36,2.65,2.49,2.72,2.41,2.55,2.30,2.62],
 [2.55,2.68,2.45,2.75,2.52,2.62,2.40,2.70,2.58,2.82,2.48,2.65,2.38,2.72,2.55,2.60,2.44,2.78,2.50,2.66,
  2.36,2.70,2.54,2.62,2.42,2.85,2.58,2.68,2.45,2.75,2.52,2.64,2.40,2.72,2.55,2.90,2.48,2.66,2.58,2.70],
 [2.50,2.42,2.62,2.38,2.58,2.70,2.45,2.55,2.66,2.35,2.60,2.48,2.72,2.40,2.57,2.64,2.44,2.68,2.52,2.38,
  2.62,2.75,2.46,2.58,2.70,2.42,2.65,2.55,2.72,2.82,2.60,2.75,2.48,2.66,2.58,2.78,2.52,2.62,2.70,2.56],
 [2.42,2.55,2.35,2.60,2.48,2.40,2.62,2.52,2.36,2.58,2.45,2.66,2.50,2.38,2.70,2.55,2.44,2.62,2.52,2.75,
  2.48,2.66,2.58,2.72,2.60,2.78,2.64,2.85,2.70,2.80,2.95,2.75,2.86,2.62,2.78,2.90,2.68,2.74,2.60,2.72],
 [2.70,2.58,2.66,2.50,2.72,2.45,2.62,2.55,2.40,2.68,2.52,2.60,2.44,2.74,2.48,2.58,2.38,2.66,2.54,2.62,
  2.46,2.70,2.52,2.40,2.64,2.56,2.72,2.48,2.60,2.68,2.74,2.70,2.62,2.55,2.45,2.50,2.38,2.30,2.22,2.35],
 [2.40,2.48,2.35,2.45,2.30,2.42,2.38,2.50,2.33,2.44,2.40,2.36,2.52,2.42,2.30,2.46,2.38,2.55,2.34,2.45,
  2.40,2.48,2.32,2.44,2.60,2.42,2.55,2.36,2.65,2.40,2.58,2.45,2.95,2.50,2.40,2.55,2.35,2.48,2.42,2.38],
 [2.50,2.62,2.45,2.55,2.38,2.58,2.48,2.65,2.42,2.56,2.35,2.60,2.52,2.44,2.68,2.40,2.55,2.62,2.46,2.70,
  2.50,2.58,2.42,2.66,2.54,2.38,2.62,2.48,2.72,2.56,2.44,2.64,2.50,2.85,2.60,2.45,2.68,2.40,2.55,2.48],
 [2.55,2.40,2.62,2.35,2.50,2.45,2.68,2.38,2.58,2.30,2.52,2.64,2.42,2.56,2.36,2.70,2.48,2.60,2.34,2.66,
  2.45,2.58,2.40,2.72,2.52,2.38,2.62,2.46,2.75,2.55,2.42,2.68,2.50,2.80,2.96,2.60,2.45,2.70,2.52,2.58],
 [2.48,2.60,2.42,2.55,2.38,2.65,2.50,2.44,2.70,2.36,2.58,2.46,2.62,2.40,2.55,2.68,2.35,2.60,2.48,2.52,
  2.42,2.66,2.58,2.45,2.72,2.50,2.62,2.40,2.68,2.55,2.46,2.75,2.58,2.65,2.80,2.95,2.62,2.72,2.50,2.60],
 [2.52,2.65,2.40,2.58,2.70,2.45,2.62,2.36,2.55,2.68,2.42,2.60,2.50,2.74,2.38,2.56,2.48,2.66,2.35,2.62,
  2.54,2.44,2.70,2.40,2.58,2.64,2.46,2.72,2.52,2.38,2.65,2.48,2.60,2.55,2.70,2.58,2.90,2.62,2.80,2.68],
 [2.45,2.58,2.40,2.62,2.35,2.55,2.48,2.66,2.38,2.52,2.60,2.42,2.56,2.36,2.64,2.50,2.44,2.58,2.40,2.62,
  2.52,2.46,2.68,2.38,2.56,2.62,2.44,2.70,2.50,2.58,2.64,2.55,2.70,2.62,2.76,2.68,2.80,2.85,2.72,2.78],
 [2.58,2.42,2.66,2.50,2.36,2.60,2.46,2.70,2.40,2.55,2.48,2.64,2.35,2.58,2.52,2.72,2.42,2.60,2.38,2.66,
  2.50,2.56,2.44,2.62,2.48,2.74,2.40,2.58,2.52,2.68,2.46,2.78,2.56,2.62,2.85,2.50,2.70,2.58,2.65,2.48],
 [2.38,2.45,2.32,2.42,2.36,2.48,2.30,2.40,2.35,2.44,2.38,2.33,2.46,2.40,2.35,2.50,2.37,2.42,2.30,2.45,
  2.40,2.36,2.48,2.34,2.42,2.38,2.52,2.36,2.44,2.40,2.55,2.38,2.46,2.42,2.60,2.45,2.40,2.52,2.48,3.10],
]

for _s in A_SERIES + B_SERIES + C_SERIES:
    assert len(_s) == 40, len(_s)

W, H = 423, 610
COL_LEFT = [27 + 50.7 * c for c in range(8)]
AX_W, AX_H = 37, 24

PANELS = [
    dict(letter="A", data=A_SERIES, color="#111111", tops=[6, 42, 78, 114, 150],
         yrange=[1, 2], yticks=[1, 1.5, 2], letter_y=10, xlabel_y=196, ylabel_y=92,
         over={2: ([1.3, 1.85], [1.4, 1.6, 1.8]), 3: ([1.2, 1.85], [1.2, 1.4, 1.6, 1.8]),
               6: ([1.2, 1.85], [1.4, 1.6, 1.8]), 7: ([1.2, 1.88], [1.2, 1.4, 1.6, 1.8]),
               10: ([1.3, 1.85], [1.4, 1.6, 1.8]), 33: ([1.3, 1.85], [1.4, 1.6, 1.8])}),
    dict(letter="B", data=B_SERIES, color="#1010e6", tops=[215, 250.5, 286, 321.5, 357],
         yrange=[1.42, 2.12], yticks=[1.5, 2], letter_y=215, xlabel_y=393, ylabel_y=300,
         over={2: ([1.0, 2.1], [1, 1.5, 2]), 32: ([1.0, 2.1], [1, 1.5, 2])}),
    dict(letter="C", data=C_SERIES, color="#2f8fd2", tops=[420, 456, 492, 527.5, 563],
         yrange=[2, 3], yticks=[2, 2.5, 3], letter_y=421, xlabel_y=603, ylabel_y=505,
         over={33: ([2, 2.9], [2, 2.5]), 39: ([2, 3.2], [2, 2.5, 3])}),
]

fig = go.Figure()
layout = {}
tickfont = dict(family="Liberation Sans", size=7, color="black")
n = 0
annotations = []
for p in PANELS:
    for i in range(40):
        r, c = divmod(i, 8)
        n += 1
        xa = "x" if n == 1 else f"x{n}"
        ya = "y" if n == 1 else f"y{n}"
        series = p["data"][i]
        fig.add_trace(go.Scatter(x=STIMULUS, y=series, mode="lines",
                                 line=dict(color=p["color"], width=0.9),
                                 xaxis=xa, yaxis=ya, showlegend=False, hoverinfo="skip"))
        k = TARGETS[i]
        fig.add_trace(go.Scatter(x=[STIMULUS[k - 1]], y=[series[k - 1]], mode="markers",
                                 marker=dict(color="#ee1111", size=5),
                                 cliponaxis=False, xaxis=xa, yaxis=ya,
                                 showlegend=False, hoverinfo="skip"))
        yr, yt = p["over"].get(i, (p["yrange"], p["yticks"]))
        x0 = COL_LEFT[c]
        top = p["tops"][r]
        layout["xaxis" if n == 1 else f"xaxis{n}"] = dict(
            domain=[x0 / W, (x0 + AX_W) / W], anchor=ya, range=[0, 40],
            tickvals=X_TICKS, ticks="inside", ticklen=2, tickwidth=0.8,
            showline=True, mirror=True, linecolor="black", linewidth=0.8,
            showgrid=False, zeroline=False, tickfont=tickfont, fixedrange=True)
        layout["yaxis" if n == 1 else f"yaxis{n}"] = dict(
            domain=[1 - (top + AX_H) / H, 1 - top / H], anchor=xa, range=yr,
            tickvals=yt, ticks="inside", ticklen=2, tickwidth=0.8,
            showline=True, mirror=True, linecolor="black", linewidth=0.8,
            showgrid=False, zeroline=False, tickfont=tickfont, fixedrange=True)
    annotations.append(dict(text=p["letter"], x=4 / W, y=1 - p["letter_y"] / H,
                            xref="paper", yref="paper", xanchor="left", yanchor="middle",
                            showarrow=False, font=dict(family="Liberation Sans", size=9, color="black")))
    annotations.append(dict(text="Stimulus target number", x=222 / W, y=1 - p["xlabel_y"] / H,
                            xref="paper", yref="paper", xanchor="center", yanchor="middle",
                            showarrow=False,
                            font=dict(family="Liberation Serif", size=10, color="black")))
    annotations.append(dict(text="Correlation coefficient", x=10 / W, y=1 - p["ylabel_y"] / H,
                            xref="paper", yref="paper", xanchor="center", yanchor="middle",
                            textangle=-90, showarrow=False,
                            font=dict(family="Liberation Serif", size=10, color="black")))

fig.update_layout(**layout)
fig.update_layout(width=W, height=H, margin=dict(l=0, r=0, t=0, b=0),
                  paper_bgcolor="white", plot_bgcolor="white",
                  annotations=annotations, showlegend=False)
fig.write_html("out.html", config={"displayModeBar": False},
               post_script="document.body.style.margin='0';document.body.style.padding='0';"
                           "document.documentElement.style.overflow='hidden';")
